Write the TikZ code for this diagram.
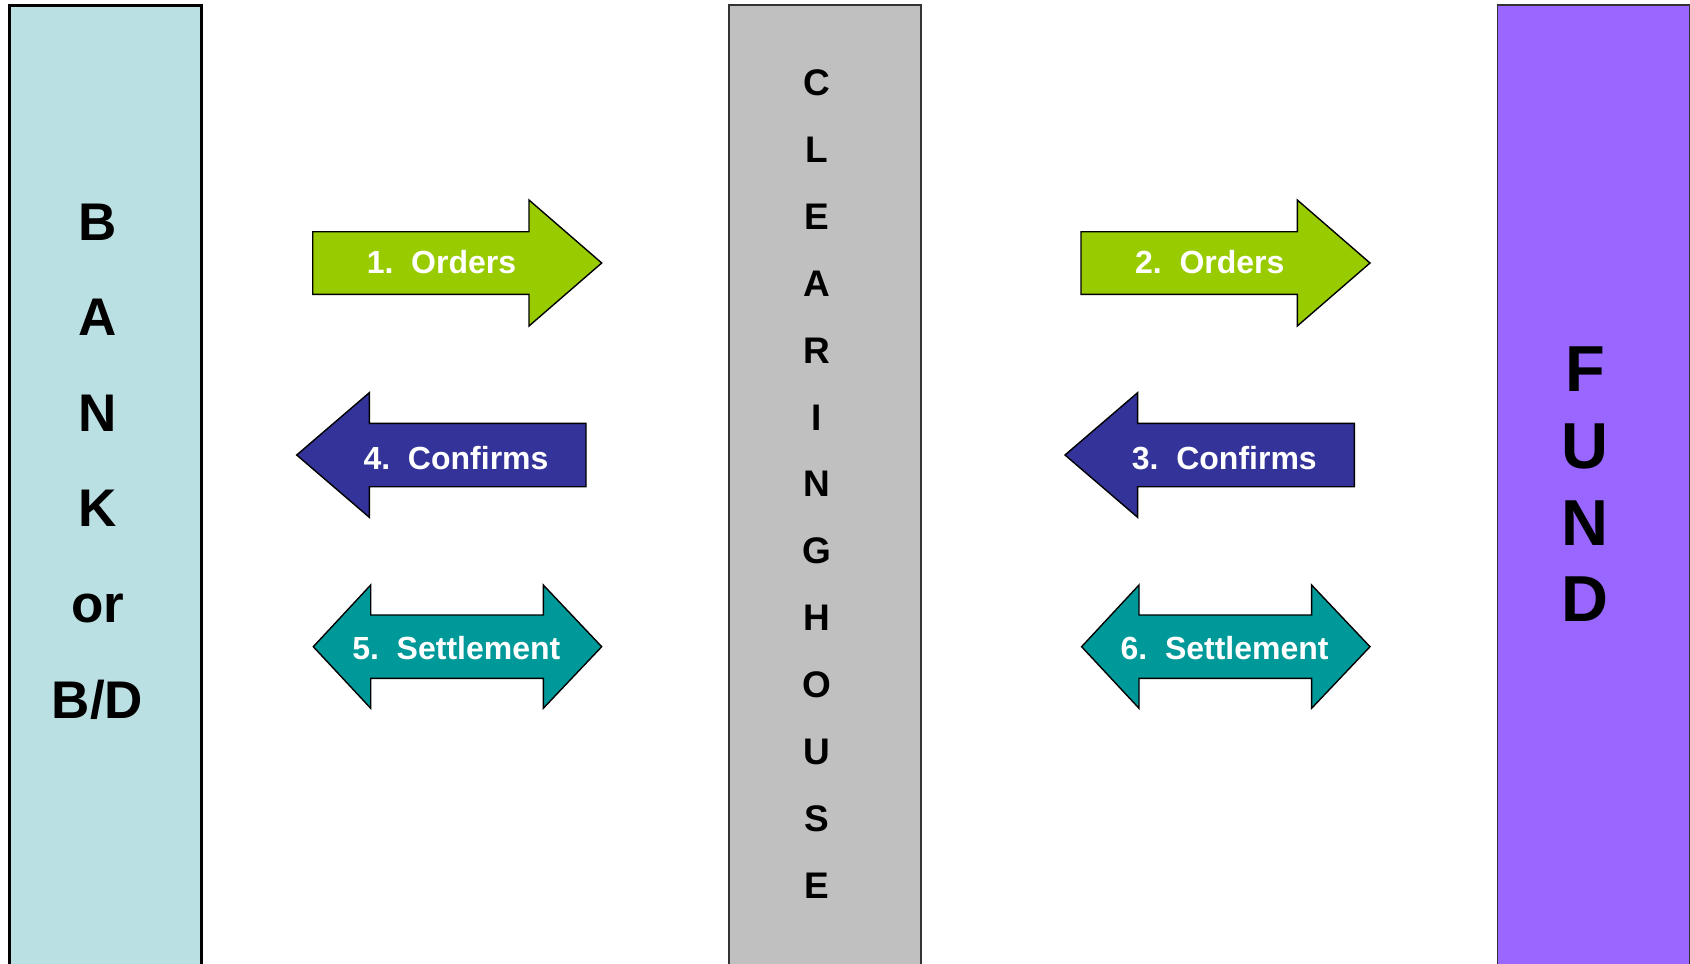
\documentclass[tikz,border=0pt]{standalone}
\usepackage{fontspec}
\setmainfont{Liberation Sans}
\definecolor{Bankcol}{RGB}{187,224,227}
\definecolor{Clearcol}{RGB}{192,192,192}
\definecolor{Fundcol}{RGB}{153,102,255}
\definecolor{Ordcol}{RGB}{153,204,0}
\definecolor{Confcol}{RGB}{51,51,153}
\definecolor{Setcol}{RGB}{0,153,153}
\tikzstyle{column}=[rectangle, draw=black, anchor=north west, outer sep=0pt, inner sep=0pt, minimum width=192pt, minimum height=1000pt]
\tikzstyle{bankbox}=[column, fill=Bankcol, line width=2.6pt]
\tikzstyle{clearbox}=[column, fill=Clearcol, draw=black!80, line width=1.8pt]
\tikzstyle{fundbox}=[column, fill=Fundcol, draw=black!80, line width=1.8pt]
\tikzstyle{flow}=[draw=black, line width=1.4pt, line join=miter]
\tikzstyle{orders}=[flow, fill=Ordcol]
\tikzstyle{confirms}=[flow, fill=Confcol]
\tikzstyle{settles}=[flow, fill=Setcol]
\tikzstyle{arrowtext}=[text=white, anchor=base, inner sep=0pt, font={\fontsize{32}{38}\selectfont\bfseries}]
\tikzstyle{letters}=[align=center, anchor=base, inner sep=0pt]

\begin{document}
\begin{tikzpicture}[x=1pt, y=-1pt]
	\useasboundingbox (0,0) rectangle (1690,964);
	\node (bank) [bankbox] at (9.3,5.3) {};
	\node (clearing) [clearbox] at (729.3,5.3) {};
	\node (fund) [fundbox] at (1497.5,5.3) {};
	% base = baseline of the last line
	\node (banktext) [letters, font={\fontsize{53}{95.6}\selectfont\bfseries}] at (97.5,718) {B\\A\\N\\K\\or\\B/D};
	\node (cleartext) [letters, font={\fontsize{37}{66.9}\selectfont\bfseries}] at (817,898.3) {C\\L\\E\\A\\R\\I\\N\\G\\H\\O\\U\\S\\E};
	\node (fundtext) [letters, font={\fontsize{65}{76.7}\selectfont\bfseries}] at (1585,621.7) {F\\U\\N\\D};
	\foreach \dx/\go/\back/\both in {0/1/4/5, 768.3/2/3/6}{
		\begin{scope}[xshift=\dx]
			% orders
			\draw[orders] (312.7,231.7) -- (529,231.7) -- (529,200) -- (601.7,263) -- (529,326) -- (529,294.3) -- (312.7,294.3) -- cycle;
			\node (orders\go) [arrowtext] at (441.5,273.3) {\go.\ \ Orders};
			% confirms
			\draw[confirms] (586,423.3) -- (369.3,423.3) -- (369.3,392.7) -- (296.7,455) -- (369.3,517.3) -- (369.3,486.7) -- (586,486.7) -- cycle;
			\node (confirms\back) [arrowtext] at (456,469.3) {\back.\ \ Confirms};
			% settlement
			\draw[settles] (313.3,646.7) -- (370.7,585) -- (370.7,615) -- (543.3,615) -- (543.3,585) -- (601.7,646.7) -- (543.3,708.3) -- (543.3,678.3) -- (370.7,678.3) -- (370.7,708.3) -- cycle;
			\node (settle\both) [arrowtext] at (456.3,659.3) {\both.\ \ Settlement};
		\end{scope}
	}
\end{tikzpicture}
\end{document}
